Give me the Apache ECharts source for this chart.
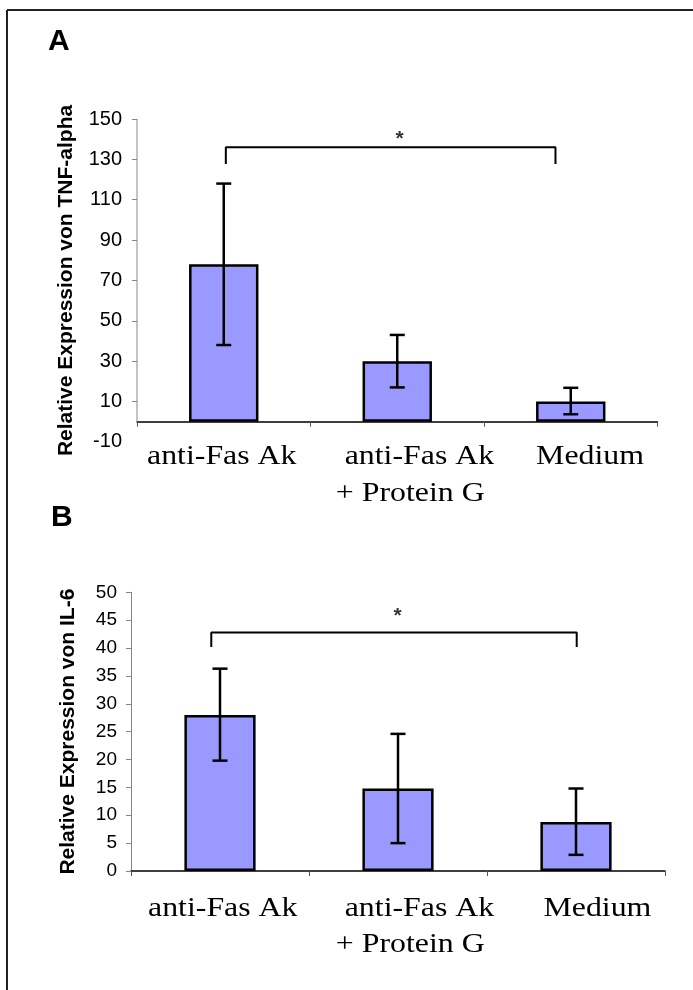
<!DOCTYPE html>
<html>
<head>
<meta charset="utf-8">
<script src="https://cdn.jsdelivr.net/npm/echarts@6/dist/echarts.min.js"></script>
<style>
html,body{margin:0;padding:0;background:#fff;}
#c{width:693px;height:990px;}
</style>
</head>
<body>
<div id="c"></div>
<script>
// ---------- data ----------
const categories = ['anti-Fas Ak', 'anti-Fas Ak + Protein G', 'Medium'];
const labelLines = [['anti-Fas Ak'], ['anti-Fas Ak', '+ Protein G'], ['Medium']];

const tnfMean = [78, 30, 10];
const tnfLow  = [38, 17, 3.7];
const tnfHigh = [118, 43, 16.8];

const il6Mean = [28, 14.8, 8.8];
const il6Low  = [19.8, 5.0, 2.9];
const il6High = [36.3, 24.6, 14.8];

const tnfTickMarks = [10, 30, 50, 70, 90, 110, 130, 150];
const il6TickMarks = [0, 5, 10, 15, 20, 25, 30, 35, 40, 45, 50];

// significance brackets (x in category units 0..3, y in axis values)
const bracketA = [[0.512, 127.7], [0.512, 136], [2.412, 136], [2.412, 127.7]];
const starA = [[1.513, 139.8]];
const bracketB = [[0.451, 40.2], [0.451, 42.8], [2.504, 42.8], [2.504, 40.2]];
const starB = [[1.498, 45.8]];

// ---------- layout ----------
const LAYOUT = {
  A: { labelX: [[0.0576], [1.197, 1.146], [2.300]], lineOffsets: [35.5, 72.0] },
  B: { labelX: [[0.0955], [1.2006, 1.1506], [2.317]], lineOffsets: [37.8, 74.3] }
};

const BAR_COLOR = '#9999FF';
const AXIS_GRAY = '#868686';

function errorSeries(xi, yi, mean, low, high) {
  return {
    type: 'custom', xAxisIndex: xi, yAxisIndex: yi, z: 10,
    data: mean.map((m, i) => [i, low[i], high[i]]),
    encode: { x: 0, y: [1, 2] },
    renderItem: function (params, api) {
      const x = api.value(0);
      const lo = api.coord([x, api.value(1)]);
      const hi = api.coord([x, api.value(2)]);
      const w = 7.5;
      const st = { stroke: '#000', lineWidth: 2.5 };
      return {
        type: 'group', children: [
          { type: 'line', shape: { x1: lo[0], y1: lo[1], x2: hi[0], y2: hi[1] }, style: st },
          { type: 'line', shape: { x1: lo[0] - w, y1: lo[1], x2: lo[0] + w, y2: lo[1] }, style: st },
          { type: 'line', shape: { x1: hi[0] - w, y1: hi[1], x2: hi[0] + w, y2: hi[1] }, style: st }
        ]
      };
    }
  };
}

function catAxis(gi) {
  return {
    type: 'category', gridIndex: gi, data: categories,
    axisLine: { show: true, onZero: true, lineStyle: { color: '#000', width: 1.5 } },
    axisTick: { show: true, alignWithLabel: false, length: 5, inside: false, lineStyle: { color: '#555', width: 1 } },
    axisLabel: { show: false },
    splitLine: { show: false }
  };
}
function annAxis(gi) {
  return { type: 'value', gridIndex: gi, min: 0, max: 3, show: false };
}

const chart = echarts.init(document.getElementById('c'), null, { renderer: 'canvas' });

const option = {
  animation: false,
  backgroundColor: '#fff',
  grid: [
    { left: 137, top: 119, width: 520.5, height: 322.9 },
    { left: 131, top: 592.3, width: 534, height: 278.7 }
  ],
  xAxis: [catAxis(0), annAxis(0), catAxis(1), annAxis(1)],
  yAxis: [
    {
      type: 'value', gridIndex: 0, min: -10, max: 150, interval: 20,
      name: 'Relative Expression von TNF-alpha', nameLocation: 'middle', nameGap: 60, nameRotate: 90,
      nameTextStyle: { fontFamily: 'Liberation Sans', fontWeight: 'bold', fontSize: 21, color: '#000' },
      axisLine: { show: false },
      axisTick: { show: true, length: 5, customValues: tnfTickMarks, lineStyle: { color: AXIS_GRAY } },
      axisLabel: { margin: 15, fontFamily: 'Liberation Sans', fontSize: 20, color: '#000' },
      splitLine: { show: false }
    },
    {
      type: 'value', gridIndex: 1, min: 0, max: 50, interval: 5,
      name: 'Relative Expression von IL-6', nameLocation: 'middle', nameGap: 52, nameRotate: 90,
      nameTextStyle: { fontFamily: 'Liberation Sans', fontWeight: 'bold', fontSize: 21, color: '#000' },
      axisLine: { show: true, lineStyle: { color: AXIS_GRAY, width: 1 } },
      axisTick: { show: true, length: 5, customValues: il6TickMarks, lineStyle: { color: AXIS_GRAY } },
      axisLabel: { margin: 14, fontFamily: 'Liberation Sans', fontSize: 19, color: '#000' },
      splitLine: { show: false }
    }
  ],
  series: [
    // y-axis line of panel A (from 0 to top)
    {
      type: 'line', xAxisIndex: 1, yAxisIndex: 0, data: [[0, 0], [0, 150]],
      symbol: 'none', silent: true, lineStyle: { color: AXIS_GRAY, width: 1 }, z: 1
    },
    {
      type: 'bar', xAxisIndex: 0, yAxisIndex: 0, data: tnfMean, barWidth: '40%',
      itemStyle: { color: BAR_COLOR, borderColor: '#000', borderWidth: 2.5 }
    },
    errorSeries(0, 0, tnfMean, tnfLow, tnfHigh),
    {
      type: 'line', xAxisIndex: 1, yAxisIndex: 0, data: bracketA, symbol: 'none',
      lineStyle: { color: '#000', width: 2 }
    },
    {
      type: 'scatter', xAxisIndex: 1, yAxisIndex: 0, data: starA, symbolSize: 0,
      label: { show: true, position: 'inside', formatter: '*', fontFamily: 'Liberation Sans', fontWeight: 'bold', fontSize: 21, color: '#000' }
    },
    {
      type: 'bar', xAxisIndex: 2, yAxisIndex: 1, data: il6Mean, barWidth: '40%',
      itemStyle: { color: BAR_COLOR, borderColor: '#000', borderWidth: 2.5 }
    },
    errorSeries(2, 1, il6Mean, il6Low, il6High),
    {
      type: 'line', xAxisIndex: 3, yAxisIndex: 1, data: bracketB, symbol: 'none',
      lineStyle: { color: '#000', width: 2 }
    },
    {
      type: 'scatter', xAxisIndex: 3, yAxisIndex: 1, data: starB, symbolSize: 0,
      label: { show: true, position: 'inside', formatter: '*', fontFamily: 'Liberation Sans', fontWeight: 'bold', fontSize: 21, color: '#000' }
    }
  ]
};
chart.setOption(option);

// ---------- category labels + frame + panel letters ----------
const graphics = [
  { type: 'line', shape: { x1: 7, y1: 10, x2: 693, y2: 10 }, style: { stroke: '#222', lineWidth: 2 } },
  { type: 'line', shape: { x1: 7, y1: 10, x2: 7, y2: 990 }, style: { stroke: '#222', lineWidth: 2 } },
  { type: 'text', x: 48, y: 57, style: { text: 'A', font: 'bold 30px "Liberation Sans"', fill: '#000', textAlign: 'left', textVerticalAlign: 'bottom' } },
  { type: 'text', x: 51, y: 533, style: { text: 'B', font: 'bold 30px "Liberation Sans"', fill: '#000', textAlign: 'left', textVerticalAlign: 'bottom' } }
];
function addLabels(panel, annX, yIdx) {
  const y0 = chart.convertToPixel({ yAxisIndex: yIdx }, 0);
  labelLines.forEach((lines, ci) => {
    lines.forEach((txt, li) => {
      const px = chart.convertToPixel({ xAxisIndex: annX }, LAYOUT[panel].labelX[ci][li]);
      graphics.push({
        type: 'text', x: px, y: y0 + LAYOUT[panel].lineOffsets[li], scaleX: 1.18, scaleY: 1,
        style: { text: txt, font: '27px "Liberation Serif"', fill: '#000', textAlign: 'left', textVerticalAlign: 'middle' }
      });
    });
  });
}
addLabels('A', 1, 0);
addLabels('B', 3, 1);
chart.setOption({ graphic: graphics });
</script>
</body>
</html>
